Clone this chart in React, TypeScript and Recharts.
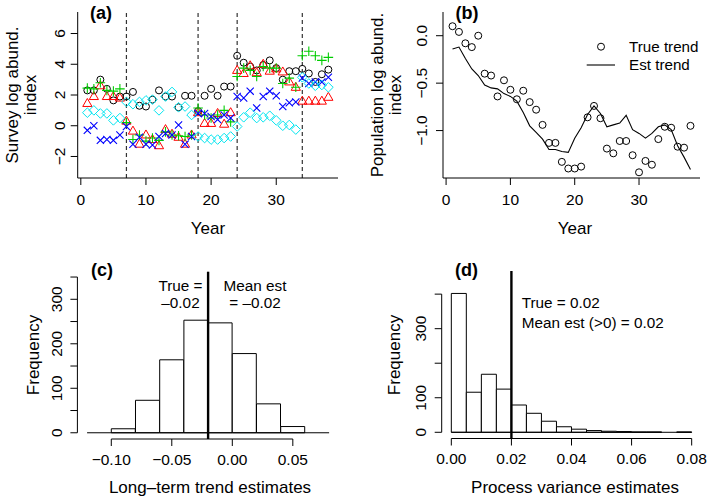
import React from "react";
import {
  Bar,
  ComposedChart,
  Line,
  ReferenceLine,
  Scatter,
  ScatterChart,
  XAxis,
  YAxis,
} from "recharts";

const FONT = '"Liberation Sans", Arial, Helvetica, sans-serif';
const W = 709;
const H = 502;
const TICK_FS = 15.5;
const TITLE_FS = 17;

// ---- panel (a): survey indices ----
const YEARS = [
  1, 2, 3, 4, 5, 6, 7, 8, 9, 10, 11, 12, 13, 14, 15, 16, 17, 18, 19, 20, 21, 22, 23, 24, 25,
  26, 27, 28, 29, 30, 31, 32, 33, 34, 35, 36, 37, 38,
];
const SURVEY_BREAKS = [7, 18, 24, 34];

const SURVEY_1 = [
  2.3, 2.3, 3.0, 2.4, 1.65, 1.9, 1.9, 2.2, 1.3, 1.25, 1.7, 2.3, 1.9, 1.9, 1.2, 1.95, 1.95, 0.95,
  1.95, 2.4, 1.95, 2.55, 2.55, 4.55, 4.1, 3.85, 3.6, 3.95, 4.25, 3.75, 3.0, 3.55, 3.55, 3.7, 3.4,
  2.85, 3.35, 3.65,
];
const SURVEY_2 = [
  1.45, 1.9, 2.6, 1.9, 1.9, 1.8, 0.3, -0.35, -1.2, -0.6, -0.9, -1.3, -0.25, -0.55, -0.75, -1.2,
  -0.6, 0.85, 0.15, 0.15, 0.8, 0.1, 0.85, 3.6, 3.4, 3.9, 3.45, 4.0, 3.55, 3.7, 3.5, 2.85, 2.5,
  1.6, 1.6, 1.6, 1.6, 1.85,
];
const SURVEY_3 = [
  2.45, 2.4, 2.8, 2.3, 2.25, 2.4, 0.2, -0.9, -0.6, -1.0, -0.8, -0.95, -0.4, -0.6, -0.65, -0.7,
  -0.6, 1.15, 0.7, 0.5, 0.7, 1.0, 0.25, 3.2, 3.75, 3.6, 3.2, 3.85, 3.75, 3.75, 2.75, 3.1, 2.5,
  4.55, 4.85, 4.55, 4.25, 4.45,
];
const SURVEY_4 = [
  -0.3, 0.0, -0.95, -0.9, -0.95, -0.6, -0.05, -1.2, -0.75, -1.2, -1.25, -0.7, -0.5, -0.6, 0.05,
  -1.2, -0.7, 0.8, 0.8, 0.6, 0.4, 0.7, 0.5, 1.9, 1.8, 2.25, 1.15, 1.9, 2.25, 1.95, 1.25, 1.5,
  1.55, 3.1, 2.75, 2.85, 2.85, 3.15,
];
const SURVEY_5 = [
  0.85, 1.0, 0.8, 0.8, 0.35, 0.5, 1.55, 1.4, 1.55, 1.65, 1.7, 1.0, 1.9, 2.2, 1.2, 1.25, 0.7,
  -0.7, -0.8, -0.9, -0.9, -0.8, -0.7, -0.05, 0.55, 0.85, 0.5, 0.55, 0.65, 0.35, 0.0, 0.05, -0.25,
  3.15, 2.75, 2.6, 2.65, 2.5,
];
const A_X_TICKS = [0, 10, 20, 30];
const A_X_LABELS = ["0", "10", "20", "30"];
const A_Y_TICKS = [-2, 0, 2, 4, 6];
const A_Y_LABELS = ["\u22122", "0", "2", "4", "6"];

// ---- panel (b): population trend ----
const TRUE_TREND = [
  0.1, 0.04, -0.08, -0.12, 0.0, -0.4, -0.42, -0.64, -0.47, -0.57, -0.67, -0.58, -0.7, -0.78,
  -0.94, -1.13, -1.13, -1.33, -1.4, -1.4, -1.38, -0.86, -0.74, -0.87, -1.19, -1.24, -1.11, -1.11,
  -1.26, -1.44, -1.32, -1.36, -1.09, -0.96, -0.97, -1.17, -1.18, -0.95,
];
const EST_TREND = [
  -0.14, -0.12, -0.24, -0.35, -0.42, -0.52, -0.55, -0.56, -0.61, -0.64, -0.69, -0.81, -0.95,
  -1.02, -1.09, -1.2, -1.2, -1.22, -1.23, -1.08, -0.97, -0.83, -0.74, -0.82, -0.96, -0.94, -0.92,
  -0.84, -0.99, -1.03, -1.08, -1.03, -0.96, -0.94, -0.99, -1.16, -1.28, -1.41,
];
const B_Y_TICKS = [-1, -0.5, 0];
const B_Y_LABELS = ["\u22121.0", "\u22120.5", "0.0"];
const TREND_NAMES = ["True trend", "Est trend"];

// ---- panel (c): long-term trend estimates ----
const TREND_BIN_MIDS = [-0.09, -0.07, -0.05, -0.03, -0.01, 0.01, 0.03, 0.05];
const TREND_COUNTS = [9, 73, 164, 253, 247, 178, 65, 14];
const TREND_TRUE = -0.02;
const C_X_TICKS = [-0.1, -0.05, 0, 0.05];
const C_X_LABELS = ["\u22120.10", "\u22120.05", "0.00", "0.05"];
const C_Y_TICKS = [0, 50, 100, 150, 200, 250, 300, 350];
const C_Y_LABELS = ["0", "", "100", "", "200", "", "300", ""];

// ---- panel (d): process variance estimates ----
const VAR_BIN_MIDS = [
  0.0025, 0.0075, 0.0125, 0.0175, 0.0225, 0.0275, 0.0325, 0.0375, 0.0425, 0.0475, 0.0525,
  0.0575, 0.0625, 0.0675, 0.0725, 0.0775,
];
const VAR_COUNTS = [402, 116, 168, 125, 79, 55, 32, 16, 9, 5, 3, 2, 1, 1, 0, 1];
const VAR_TRUE = 0.02;
const D_X_TICKS = [0, 0.02, 0.04, 0.06, 0.08];
const D_X_LABELS = ["0.00", "0.02", "0.04", "0.06", "0.08"];
const D_Y_TICKS = [0, 100, 200, 300, 400];
const D_Y_LABELS = ["0", "100", "", "300", ""];

const pts = (xs: number[], ys: number[]) => xs.map((x, i) => ({ x, y: ys[i] }));

const xTick = (ticks: number[], labels: string[]) => (p: any) => (
  <text
    x={p.x}
    y={p.y}
    textAnchor="middle"
    dominantBaseline="central"
    fontFamily={FONT}
    fontSize={TICK_FS}
    fill="#000"
  >
    {labels[ticks.indexOf(p.payload.value)]}
  </text>
);

const yTick = (ticks: number[], labels: string[]) => (p: any) => (
  <text
    transform={`translate(${p.x},${p.y}) rotate(-90)`}
    textAnchor="middle"
    dominantBaseline="central"
    fontFamily={FONT}
    fontSize={TICK_FS}
    fill="#000"
  >
    {labels[ticks.indexOf(p.payload.value)]}
  </text>
);

// R-style plotting symbols
const circle = (color: string) => (p: any) => (
  <circle cx={p.cx} cy={p.cy} r={3.5} fill="none" stroke={color} strokeWidth={1} />
);
const triangle = (color: string) => (p: any) => (
  <polygon
    points={`${p.cx},${p.cy - 5} ${p.cx + 4.6},${p.cy + 3} ${p.cx - 4.6},${p.cy + 3}`}
    fill="none"
    stroke={color}
    strokeWidth={1}
  />
);
const plus = (color: string) => (p: any) => (
  <path
    d={`M${p.cx - 4.8},${p.cy}H${p.cx + 4.8}M${p.cx},${p.cy - 4.8}V${p.cy + 4.8}`}
    stroke={color}
    strokeWidth={1.1}
  />
);
const cross = (color: string) => (p: any) => (
  <path
    d={`M${p.cx - 3.6},${p.cy - 3.6}L${p.cx + 3.6},${p.cy + 3.6}M${p.cx - 3.6},${p.cy + 3.6}L${p.cx + 3.6},${p.cy - 3.6}`}
    stroke={color}
    strokeWidth={1.1}
  />
);
const diamond = (color: string) => (p: any) => (
  <polygon
    points={`${p.cx},${p.cy - 4.8} ${p.cx + 4.8},${p.cy} ${p.cx},${p.cy + 4.8} ${p.cx - 4.8},${p.cy}`}
    fill="none"
    stroke={color}
    strokeWidth={1}
  />
);

const SURVEYS = [
  { id: "s1", values: SURVEY_1, shape: circle("#000000") },
  { id: "s2", values: SURVEY_2, shape: triangle("#FF0000") },
  { id: "s3", values: SURVEY_3, shape: plus("#00CD00") },
  { id: "s4", values: SURVEY_4, shape: cross("#0000FF") },
  { id: "s5", values: SURVEY_5, shape: diamond("#00E5F0") },
];

// plot area in page pixels: left, top, right, bottom
const margin = (l: number, t: number, r: number, b: number) => ({
  left: l - 60,
  top: t,
  right: W - r,
  bottom: H - b - 30,
});

const layer: React.CSSProperties = { position: "absolute", left: 0, top: 0 };

function Txt({
  x,
  y,
  children,
  size = TITLE_FS,
  rot = false,
  anchor = "middle",
  bold = false,
}: {
  x: number;
  y: number;
  children: React.ReactNode;
  size?: number;
  rot?: boolean;
  anchor?: "middle" | "start";
  bold?: boolean;
}) {
  const tx = anchor === "middle" ? "-50%" : "0";
  return (
    <div
      style={{
        position: "absolute",
        left: x,
        top: y,
        transform: `translate(${tx},-50%)${rot ? " rotate(-90deg)" : ""}`,
        fontSize: size,
        fontWeight: bold ? "bold" : "normal",
        lineHeight: 1,
        whiteSpace: "nowrap",
        color: "#000",
      }}
    >
      {children}
    </div>
  );
}

function PanelA() {
  return (
    <div style={layer}>
      <ScatterChart width={W} height={H} margin={margin(77.7, 12, 338, 178)}>
        <XAxis
          type="number"
          dataKey="x"
          domain={[-0.48, 39.48]}
          allowDataOverflow
          ticks={A_X_TICKS}
          interval={0}
          height={30}
          tickSize={7}
          tickMargin={14}
          stroke="#000"
          tick={xTick(A_X_TICKS, A_X_LABELS)}
        />
        <YAxis
          type="number"
          dataKey="y"
          domain={[-3.4, 7.4]}
          allowDataOverflow
          ticks={A_Y_TICKS}
          interval={0}
          width={60}
          tickSize={7}
          tickMargin={11}
          stroke="#000"
          tick={yTick(A_Y_TICKS, A_Y_LABELS)}
        />
        {SURVEY_BREAKS.map((b) => (
          <ReferenceLine key={b} x={b} stroke="#333" strokeWidth={1.2} strokeDasharray="4 3" />
        ))}
        {SURVEYS.map((s) => (
          <Scatter
            key={s.id}
            data={pts(YEARS, s.values)}
            shape={s.shape}
            isAnimationActive={false}
          />
        ))}
      </ScatterChart>
    </div>
  );
}

function PanelB() {
  return (
    <div style={layer}>
      <ComposedChart width={W} height={H} margin={margin(443, 12, 700, 178)}>
        <XAxis
          type="number"
          dataKey="x"
          domain={[-0.48, 39.48]}
          allowDataOverflow
          ticks={A_X_TICKS}
          interval={0}
          height={30}
          tickSize={7}
          tickMargin={14}
          stroke="#000"
          tick={xTick(A_X_TICKS, A_X_LABELS)}
        />
        <YAxis
          type="number"
          dataKey="y"
          domain={[-1.5, 0.25]}
          allowDataOverflow
          ticks={B_Y_TICKS}
          interval={0}
          width={60}
          tickSize={7}
          tickMargin={15}
          stroke="#000"
          tick={yTick(B_Y_TICKS, B_Y_LABELS)}
        />
        <Scatter
          name={TREND_NAMES[0]}
          data={pts(YEARS, TRUE_TREND)}
          shape={circle("#000")}
          isAnimationActive={false}
        />
        <Line
          name={TREND_NAMES[1]}
          data={pts(YEARS, EST_TREND)}
          dataKey="y"
          type="linear"
          stroke="#000"
          strokeWidth={1.1}
          dot={false}
          isAnimationActive={false}
        />
      </ComposedChart>
    </div>
  );
}

function Histogram({
  mids,
  counts,
  truth,
  area,
  xDomain,
  yDomain,
  xTicks,
  xLabels,
  yTicks,
  yLabels,
  base,
}: {
  mids: number[];
  counts: number[];
  truth: number;
  area: [number, number, number, number];
  xDomain: [number, number];
  yDomain: [number, number];
  xTicks: number[];
  xLabels: string[];
  yTicks: number[];
  yLabels: string[];
  base: [number, number];
}) {
  const data = mids.map((x, i) => ({ x, n: counts[i] }));
  return (
    <div style={layer}>
      <ComposedChart
        width={W}
        height={H}
        data={data}
        margin={margin(...area)}
        barCategoryGap={0}
        barGap={0}
      >
        <XAxis
          type="number"
          dataKey="x"
          domain={xDomain}
          allowDataOverflow
          ticks={xTicks}
          interval={0}
          height={30}
          tickSize={7}
          tickMargin={13}
          axisLine={false}
          stroke="#000"
          tick={xTick(xTicks, xLabels)}
        />
        <YAxis
          type="number"
          domain={yDomain}
          allowDataOverflow
          ticks={yTicks}
          interval={0}
          width={60}
          tickSize={7}
          tickMargin={14}
          axisLine={false}
          stroke="#000"
          tick={yTick(yTicks, yLabels)}
        />
        <Bar dataKey="n" fill="#fff" stroke="#000" strokeWidth={1} isAnimationActive={false} />
        <ReferenceLine
          segment={[
            { x: base[0], y: 0 },
            { x: base[1], y: 0 },
          ]}
          stroke="#000"
        />
        <ReferenceLine
          segment={[
            { x: xTicks[0], y: yDomain[0] },
            { x: xTicks[xTicks.length - 1], y: yDomain[0] },
          ]}
          stroke="#000"
        />
        <ReferenceLine
          segment={[
            { x: xDomain[0], y: yTicks[0] },
            { x: xDomain[0], y: yTicks[yTicks.length - 1] },
          ]}
          stroke="#000"
        />
        <ReferenceLine x={truth} stroke="#000" strokeWidth={2.4} />
      </ComposedChart>
    </div>
  );
}

function TrendLegend() {
  return (
    <div style={{ position: "absolute", left: 584, top: 36 }}>
      <svg width={40} height={40} style={{ position: "absolute", left: 0, top: 0 }}>
        <circle cx={17} cy={10.7} r={3.5} fill="none" stroke="#000" />
        <line x1={2.7} x2={31} y1={29} y2={29} stroke="#000" strokeWidth={1.1} />
      </svg>
      <Txt x={45} y={10.7} size={15.2} anchor="start">
        {TREND_NAMES[0]}
      </Txt>
      <Txt x={45} y={29} size={15.2} anchor="start">
        {TREND_NAMES[1]}
      </Txt>
    </div>
  );
}

export default function App() {
  return (
    <div
      style={{
        position: "absolute",
        left: 0,
        top: 0,
        width: W,
        height: H,
        background: "#fff",
        fontFamily: FONT,
        overflow: "hidden",
      }}
    >
      <PanelA />
      <PanelB />
      <Histogram
        mids={TREND_BIN_MIDS}
        counts={TREND_COUNTS}
        truth={TREND_TRUE}
        area={[77.4, 271.7, 338.8, 439]}
        xDomain={[-0.128, 0.088]}
        yDomain={[-14, 362]}
        xTicks={C_X_TICKS}
        xLabels={C_X_LABELS}
        yTicks={C_Y_TICKS}
        yLabels={C_Y_LABELS}
        base={[-0.12, 0.08]}
      />
      <Histogram
        mids={VAR_BIN_MIDS}
        counts={VAR_COUNTS}
        truth={VAR_TRUE}
        area={[441.7, 271, 701.3, 438.5]}
        xDomain={[-0.0032, 0.0832]}
        yDomain={[-18, 467]}
        xTicks={D_X_TICKS}
        xLabels={D_X_LABELS}
        yTicks={D_Y_TICKS}
        yLabels={D_Y_LABELS}
        base={[0, 0.08]}
      />

      {/* axis titles */}
      <Txt x={12} y={95} rot>
        Survey log abund.
      </Txt>
      <Txt x={29.5} y={95} rot>
        index
      </Txt>
      <Txt x={208} y={228}>Year</Txt>
      <Txt x={377} y={95} rot>
        Population log abund.
      </Txt>
      <Txt x={395} y={95} rot>
        index
      </Txt>
      <Txt x={575} y={228}>Year</Txt>
      <Txt x={33} y={355} rot>
        Frequency
      </Txt>
      <Txt x={210} y={487}>Long–term trend estimates</Txt>
      <Txt x={394} y={355} rot>
        Frequency
      </Txt>
      <Txt x={575} y={487}>Process variance estimates</Txt>

      {/* panel tags */}
      <Txt x={101} y={13} size={18} bold>
        (a)
      </Txt>
      <Txt x={467} y={13} size={18} bold>
        (b)
      </Txt>
      <Txt x={102} y={269.5} size={18} bold>
        (c)
      </Txt>
      <Txt x={466.5} y={270} size={18} bold>
        (d)
      </Txt>

      <TrendLegend />

      {/* annotations */}
      <Txt x={180.5} y={285.7} size={15.3}>
        True =
      </Txt>
      <Txt x={180.5} y={303.3} size={15.3}>
        –0.02
      </Txt>
      <Txt x={255} y={285.7} size={15.3}>
        Mean est
      </Txt>
      <Txt x={255} y={303.3} size={15.3}>
        = –0.02
      </Txt>
      <Txt x={521.7} y={303.3} size={15.3} anchor="start">
        True = 0.02
      </Txt>
      <Txt x={521.7} y={323.3} size={15.3} anchor="start">
        Mean est (&gt;0) = 0.02
      </Txt>
    </div>
  );
}
